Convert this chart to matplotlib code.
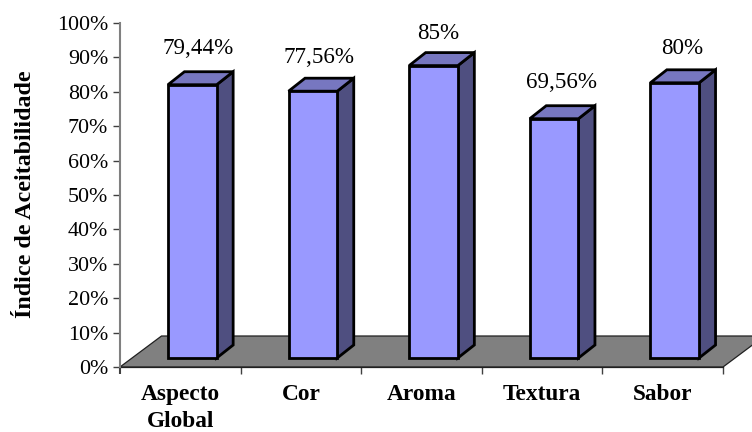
import matplotlib
matplotlib.use("Agg")
import matplotlib.pyplot as plt
from matplotlib.patches import Polygon

categories = ["Aspecto\nGlobal", "Cor", "Aroma", "Textura", "Sabor"]
values = [79.44, 77.56, 85, 69.56, 80]
value_labels = ["79,44%", "77,56%", "85%", "69,56%", "80%"]
y_ticks = list(range(0, 101, 10))
y_title = "Índice de Aceitabilidade"

plt.rcParams["font.family"] = ["Liberation Serif", "DejaVu Serif"]
W, H = 752, 432
fig = plt.figure(figsize=(W / 100, H / 100), dpi=100, facecolor="white")
ax = fig.add_axes([120 / W, (H - 367) / H, 603 / W, 344 / H])
ax.set_xlim(0, 5)
ax.set_ylim(0, 100)
ax.patch.set_visible(False)

px_x = 5 / 603
px_y = 100 / 344
bar_w = 48.7 * px_x
dx, dy = 16.5 * px_x, 13 * px_y
ox, oy = 12 * px_x, 9 * px_y
floor_dx, floor_dy = 41.5 * px_x, 31 * px_y
edge = "black"
lw = 2.0

ax.add_patch(Polygon([(0, 0), (floor_dx, floor_dy), (5 + floor_dx, floor_dy), (5, 0)],
                     closed=True, facecolor="#808080", edgecolor="#202020", lw=0.9,
                     clip_on=False, zorder=1))

xs = [i + 0.5 + ox - bar_w / 2 for i in range(len(values))]
for x, v in zip(xs, values):
    top = v + oy
    ax.add_patch(Polygon([(x + bar_w, oy), (x + bar_w + dx, oy + dy),
                          (x + bar_w + dx, top + dy), (x + bar_w, top)],
                         closed=True, facecolor="#4F4F80", edgecolor=edge, lw=lw,
                         joinstyle="miter", zorder=3, clip_on=False))
    ax.add_patch(Polygon([(x, top), (x + dx, top + dy), (x + bar_w + dx, top + dy), (x + bar_w, top)],
                         closed=True, facecolor="#7777C0", edgecolor=edge, lw=lw,
                         joinstyle="miter", zorder=3, clip_on=False))
ax.bar(xs, values, width=bar_w, bottom=oy, align="edge", color="#9999FF",
       edgecolor=edge, linewidth=lw, zorder=4, clip_on=False)

label_dx = [6, 6, 5, 7, 7]
label_dy = [36, 34, 32, 36, 34]
for x, v, s, ddx, ddy in zip(xs, values, value_labels, label_dx, label_dy):
    ax.annotate(s, xy=(x + bar_w / 2, v + oy), xytext=(ddx * 0.72, ddy * 0.72),
                textcoords="offset points", ha="center", va="center",
                fontsize=16.6, color="black", zorder=5)

for side in ("top", "right"):
    ax.spines[side].set_visible(False)
ax.spines["left"].set_color("#808080")
ax.spines["left"].set_linewidth(1.5)
ax.spines["bottom"].set_color("#202020")
ax.spines["bottom"].set_linewidth(0.9)
ax.spines["bottom"].set_zorder(2)

ax.set_yticks(y_ticks)
ax.set_yticklabels([f"{t}%" for t in y_ticks], fontsize=15.8)
ax.tick_params(axis="y", length=5, width=1, color="#404040", pad=3.6)
ax.set_xticks(range(6))
ax.set_xticklabels([""] * 6)
ax.tick_params(axis="x", length=5, width=1, color="#404040")
first = ax.xaxis.get_major_ticks()[0].tick1line
first.set_color("#808080")
first.set_markeredgewidth(1.5)

for i, c in enumerate(categories):
    ax.annotate(c, xy=(i + 0.5, 0), xytext=(0, -12), textcoords="offset points",
                ha="center", va="top", fontsize=16.8, fontweight="bold",
                linespacing=1.42, annotation_clip=False)

fig.text(26 / W, 1 - 194 / H, y_title, rotation=90, ha="center", va="center",
         fontsize=17.3, fontweight="bold")

fig.savefig("out.png", dpi=100)
